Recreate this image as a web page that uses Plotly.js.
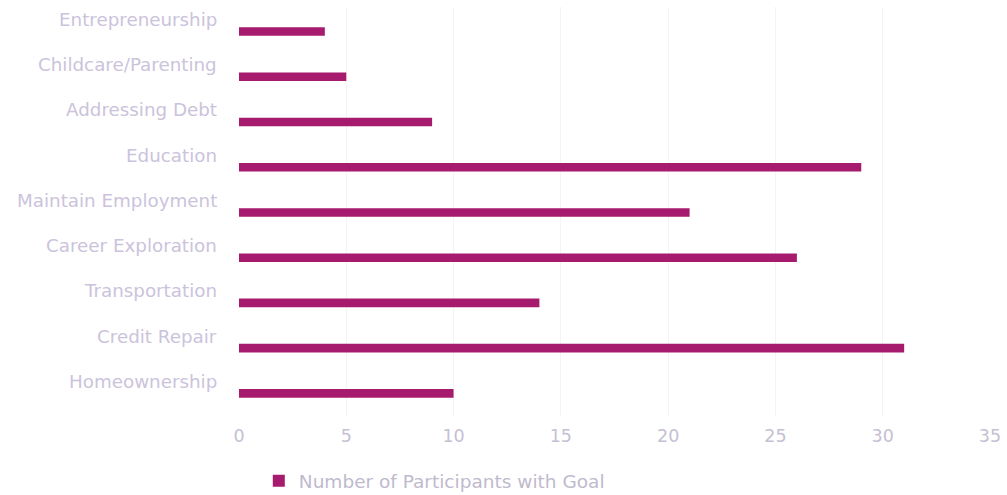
<!DOCTYPE html>
<html>
<head>
<meta charset="utf-8">
<script src="https://cdn.plot.ly/plotly-3.0.1.min.js"></script>
<style>html,body{margin:0;padding:0;background:#fff;}#chart{width:1007px;height:495px;}</style>
</head>
<body>
<div id="chart"></div>
<script>
const categories = ["Homeownership","Credit Repair","Transportation","Career Exploration","Maintain Employment","Education","Addressing Debt","Childcare/Parenting","Entrepreneurship"];
const participants = [10,31,14,26,21,29,9,5,4];
const seriesName = "Number of Participants with Goal";
const xTicks = [0,5,10,15,20,25,30,35];

const labelColor = "#cbc3dc";
const fontFam = "'DejaVu Sans', 'Open Sans', sans-serif";
const annotations = categories.map(c => ({
  x: -0.026, xref: "paper", xanchor: "right",
  y: c, yref: "y", yanchor: "middle", yshift: 12,
  text: c, showarrow: false,
  font: {family: fontFam, size: 18.3, color: labelColor}
}));

Plotly.newPlot("chart", [{
  type: "bar", orientation: "h",
  y: categories, x: participants, name: seriesName,
  marker: {color: "#a61b6e"},
  showlegend: true
}], {
  width: 1007, height: 495,
  margin: {l: 239, r: 17, t: 7, b: 79, autoexpand: false},
  paper_bgcolor: "#fff", plot_bgcolor: "#fff",
  bargap: 0.81,
  font: {family: fontFam, color: labelColor},
  xaxis: {range: [0, 35], tickvals: xTicks, showgrid: true, gridcolor: "#f5f3f7", zeroline: false,
          tickfont: {size: 17.5, color: "#c5bfd3"}, ticks: "", ticklabelstandoff: 7, fixedrange: true},
  yaxis: {showticklabels: false, showgrid: false, zeroline: false, categoryorder: "array", categoryarray: categories},
  showlegend: true,
  legend: {orientation: "h", xref: "container", x: 0.257, xanchor: "left",
           yref: "container", y: 0.028, yanchor: "middle",
           font: {size: 18.5, color: "#c0bacd"}, itemwidth: 30},
  annotations: annotations
}, {displayModeBar: false, staticPlot: true});
</script>
</body>
</html>
